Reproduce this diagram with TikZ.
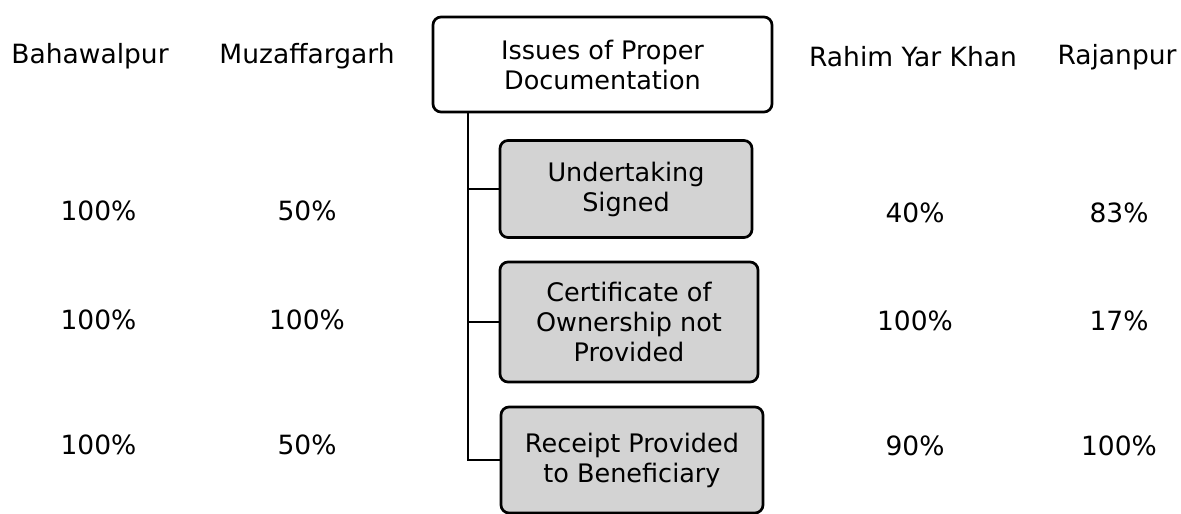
\documentclass[tikz,border=0pt]{standalone}
\usepackage{fontspec}
\setmainfont{DejaVu Sans}
\definecolor{boxgray}{HTML}{D3D3D3}
\begin{document}
\begin{tikzpicture}[x=1pt,y=-1pt,
  lbl/.style={inner sep=0pt, font=\fontsize{26.5}{30}\selectfont, text=black},
  rbox/.style={draw=black, line width=2.7pt, rounded corners=8pt, inner sep=0pt,
    align=center, font=\fontsize{25.5}{30}\selectfont},
  subbox/.style={rbox, fill=boxgray},
  conn/.style={draw=black, line width=2.7pt}]
\useasboundingbox (0,0) rectangle (1181,514);
% column headers
\node[lbl] (hB) at (90,56) {Bahawalpur};
\node[lbl] (hM) at (307,56) {Muzaffargarh};
\node[lbl] (hR) at (913,57) {Rahim Yar Khan};
\node[lbl] (hJ) at (1117,57) {Rajanpur};
% central boxes
\node[rbox, minimum width=339pt, minimum height=95pt] (top) at (602.5,64.5) {Issues of Proper\\Documentation};
\node[subbox, minimum width=252pt, minimum height=97pt] (b1) at (626,189) {Undertaking\\Signed};
\node[subbox, minimum width=258pt, minimum height=120pt] (b2) at (629,322) {Certificate of\\Ownership not\\Provided};
\node[subbox, minimum width=262pt, minimum height=106pt] (b3) at (632,460) {Receipt Provided\\to Beneficiary};
% connectors
\coordinate (tx) at (468,0);
\draw[conn] (tx |- top.south) |- (b3.west);
\draw[conn] (tx |- b1.west) -- (b1.west);
\draw[conn] (tx |- b2.west) -- (b2.west);
% percentages
\node[lbl] (p11) at (98.5,211) {100\%};
\node[lbl] (p12) at (307,211) {50\%};
\node[lbl] (p13) at (915,213) {40\%};
\node[lbl] (p14) at (1119,213) {83\%};
\node[lbl] (p21) at (98.5,320) {100\%};
\node[lbl] (p22) at (307,320) {100\%};
\node[lbl] (p23) at (915,321) {100\%};
\node[lbl] (p24) at (1119,321) {17\%};
\node[lbl] (p31) at (98.5,445) {100\%};
\node[lbl] (p32) at (307,445) {50\%};
\node[lbl] (p33) at (915,446) {90\%};
\node[lbl] (p34) at (1119,446) {100\%};
\end{tikzpicture}
\end{document}
